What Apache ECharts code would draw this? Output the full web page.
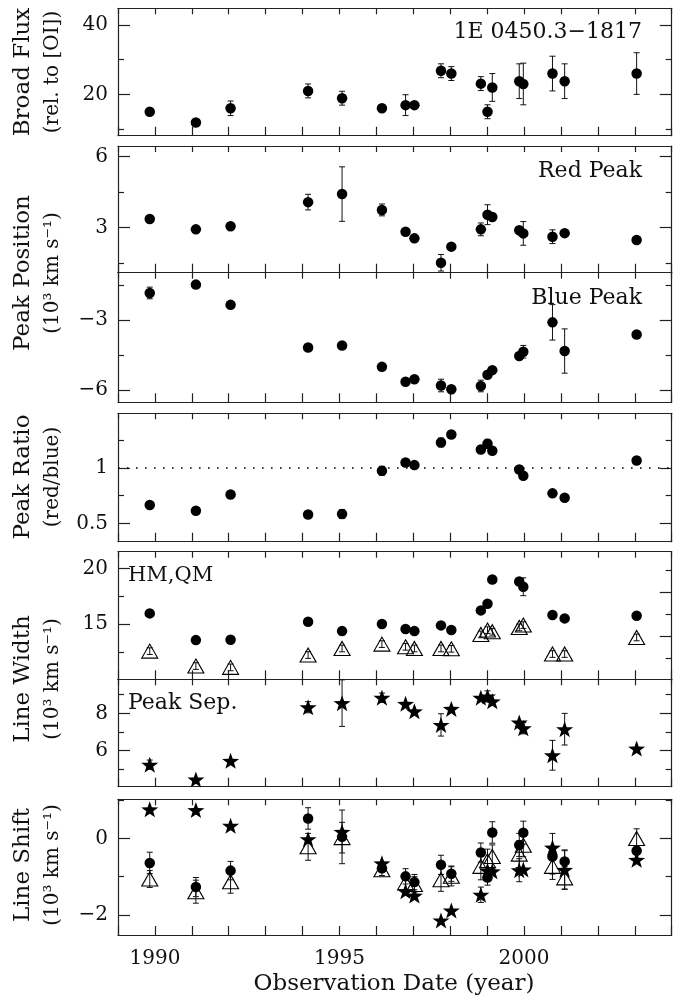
<!DOCTYPE html>
<html><head><meta charset="utf-8">
<script src="https://cdn.jsdelivr.net/npm/echarts@6/dist/echarts.min.js"></script>
<style>html,body{margin:0;padding:0;background:#fff}#c{width:690px;height:1004px}</style>
</head><body><div id="c"></div>
<script>
// ---------- DATA ----------
const dates = [1989.86, 1991.11, 1992.05, 1994.15, 1995.07, 1996.15, 1996.79, 1997.03, 1997.75, 1998.03, 1998.83, 1999.01, 1999.14, 1999.87, 1999.98, 2000.77, 2001.10, 2003.05];

const fluxVal = [15.0, 11.9, 16.0, 21.0, 18.9, 16.0, 16.9, 16.9, 26.8, 26.0, 23.1, 15.0, 22.0, 23.8, 23.0, 26.0, 23.8, 26.0];
const fluxErr = [0, 0, 2.1, 2, 2, 0, 3, 0, 2, 2, 2, 2, 4, 5, 6, 5, 5, 6];

const redVal = [3.37, 2.93, 3.06, 4.08, 4.42, 3.75, 2.83, 2.55, 1.52, 2.20, 2.93, 3.55, 3.45, 2.89, 2.76, 2.62, 2.77, 2.48];
const redErr = [0, 0, 0, 0.33, 1.15, 0.25, 0, 0, 0.35, 0, 0.27, 0.42, 0, 0, 0.5, 0.29, 0, 0];

const blueVal = [-1.84, -1.48, -2.35, -4.18, -4.09, -5.01, -5.65, -5.54, -5.81, -5.97, -5.83, -5.35, -5.15, -4.54, -4.36, -3.10, -4.33, -3.62];
const blueErr = [0.25, 0, 0, 0, 0, 0, 0, 0, 0.27, 0, 0.25, 0, 0, 0, 0.27, 0.76, 0.95, 0];

const ratioVal = [0.665, 0.614, 0.76, 0.58, 0.584, 0.973, 1.048, 1.024, 1.228, 1.30, 1.165, 1.216, 1.153, 0.985, 0.928, 0.77, 0.73, 1.066];
const ratioErr = [0.02, 0.02, 0.02, 0.02, 0.04, 0.04, 0.02, 0.02, 0.04, 0.03, 0.03, 0.04, 0.03, 0.03, 0.03, 0.02, 0.02, 0.03];

const hmWidth = [15.96, 13.56, 13.59, 15.21, 14.37, 15.0, 14.55, 14.37, 14.88, 14.46, 16.23, 16.83, 19.01, 18.83, 18.35, 15.81, 15.51, 15.75];
const hmWidthErr = [0.3, 0, 0, 0, 0, 0, 0, 0, 0, 0, 0, 0, 0, 0.3, 0.8, 0, 0, 0];
const qmWidth = [12.57, 11.23, 11.11, 12.22, 12.81, 13.2, 12.96, 12.81, 12.81, 12.78, 14.07, 14.46, 14.31, 14.70, 14.91, 12.31, 12.31, 13.8];
const qmWidthErr = [0.3, 0.3, 0.3, 0.3, 0.3, 0.3, 0.3, 0.3, 0.3, 0.3, 0.3, 0.3, 0.3, 0.3, 0.3, 0.3, 0.3, 0.3];

const peakSep = [5.24, 4.45, 5.45, 8.33, 8.55, 8.84, 8.51, 8.11, 7.38, 8.24, 8.84, 8.91, 8.65, 7.51, 7.20, 5.75, 7.15, 6.11];
const peakSepErr = [0.25, 0, 0, 0.3, 1.25, 0.25, 0, 0, 0.6, 0, 0, 0.3, 0, 0, 0.3, 0.8, 0.85, 0];

const hmShift = [-0.64, -1.27, -0.84, 0.52, 0.04, -0.78, -0.99, -1.14, -0.69, -0.92, -0.37, -1.02, 0.155, -0.17, 0.15, -0.47, -0.60, -0.32];
const hmShiftErr = [0.28, 0.25, 0.24, 0.28, 0.7, 0.1, 0.2, 0.2, 0.25, 0.2, 0.25, 0.2, 0.28, 0.3, 0.3, 0.6, 0.3, 0.1];
const qmShift = [-1.06, -1.39, -1.13, -0.22, 0.02, -0.82, -1.16, -1.20, -1.08, -0.99, -0.73, -0.58, -0.47, -0.41, -0.18, -0.73, -1.03, 0.0];
const qmShiftErr = [0.22, 0.3, 0.3, 0.35, 0.4, 0.15, 0.2, 0.2, 0.3, 0.25, 0.35, 0.3, 0.3, 0.35, 0.3, 0.2, 0.3, 0.25];
const peakShift = [0.76, 0.74, 0.33, -0.02, 0.17, -0.65, -1.38, -1.49, -2.14, -1.88, -1.47, -0.84, -0.86, -0.83, -0.81, -0.24, -0.82, -0.56];
const peakShiftErr = [0, 0, 0, 0, 0, 0, 0, 0, 0, 0, 0.2, 0, 0, 0.3, 0, 0, 0.5, 0];

// tick values
const yearTicksLabelled = [1990, 1995, 2000];
const fluxMajor = [20, 40], fluxMinor = [10, 30];
const redMajor = [3, 6], redMinor = [1.5, 4.5];
const blueMajor = [-6, -3], blueMinor = [-4.5, -1.5];
const ratioMajor = [0.5, 1], ratioMinor = [0.75, 1.25];
const widthMajor = [15, 20], widthMinor = [12.5, 17.5];
const widthRightMajor = [13.9, 17.85], widthRightMinor = [11.96, 15.9, 19.8];
const sepMajor = [6, 8], sepMinor = [5, 7, 9];
const shiftMajor = [-2, 0], shiftMinor = [-1, 1];
const ratioRef = 1;

// ---------- LAYOUT ----------
const FONT = 'DejaVu Serif';
const INK = '#000';
const L = 118, W = 553.7;
const panels = [
  {top: 8.3,   bottom: 135.7, min: 8.1,   max: 44.8,  major: fluxMajor,  minor: fluxMinor},
  {top: 146,   bottom: 272.7, min: 1.1,   max: 6.45,  major: redMajor,   minor: redMinor},
  {top: 272.7, bottom: 402.3, min: -6.53, max: -0.97, major: blueMajor,  minor: blueMinor},
  {top: 413.3, bottom: 541.7, min: 0.335, max: 1.49,  major: ratioMajor, minor: ratioMinor},
  {top: 551.7, bottom: 679.3, min: 10.04, max: 21.5,  major: widthMajor, minor: widthMinor, rMajor: widthRightMajor, rMinor: widthRightMinor},
  {top: 679.3, bottom: 786.7, min: 4.06,  max: 9.83,  major: sepMajor,   minor: sepMinor},
  {top: 799.3, bottom: 935,   min: -2.52, max: 1.02,  major: shiftMajor, minor: shiftMinor}
];

const fmtY = v => { const s = String(Math.abs(+(+v).toFixed(3))); return v < 0 ? '\u2212' + s : s; };
const fmtX = v => String(Math.round(v));
const lineSt = {color: '#222', width: 1.2};

const grid = [], xAxis = [], yAxis = [], series = [];
panels.forEach((p, i) => {
  grid.push({left: L, width: W, top: p.top, height: p.bottom - p.top});
  const xBase = {type: 'value', gridIndex: i, min: 1989, max: 2004, interval: 1,
    splitLine: {show: false}, axisLine: {show: true, onZero: false, lineStyle: lineSt}};
  xAxis.push(Object.assign({}, xBase, {position: 'bottom',
    axisTick: {show: true, inside: true, length: 9, lineStyle: lineSt},
    axisLabel: {show: i === panels.length - 1, customValues: yearTicksLabelled, formatter: fmtX, margin: 14,
      fontFamily: FONT, fontSize: 20, color: '#111'}}));
  xAxis.push(Object.assign({}, xBase, {position: 'top',
    axisTick: {show: true, inside: true, length: 6, lineStyle: lineSt},
    axisLabel: {show: false}}));
  const yBase = {type: 'value', gridIndex: i, min: p.min, max: p.max, splitLine: {show: false}};
  yAxis.push(Object.assign({}, yBase, {position: 'left',
    axisLine: {show: true, onZero: false, lineStyle: lineSt},
    axisTick: {show: true, inside: true, length: 12, customValues: p.major, lineStyle: lineSt},
    axisLabel: {show: true, customValues: p.major, formatter: fmtY, margin: 10,
      fontFamily: FONT, fontSize: 20, color: '#111'}}));
  yAxis.push(Object.assign({}, yBase, {position: 'left',
    axisLine: {show: false},
    axisTick: {show: true, inside: true, length: 6, customValues: p.minor, lineStyle: lineSt},
    axisLabel: {show: false}}));
  yAxis.push(Object.assign({}, yBase, {position: 'right',
    axisLine: {show: true, onZero: false, lineStyle: lineSt},
    axisTick: {show: true, inside: true, length: 12, customValues: p.rMajor || p.major, lineStyle: lineSt},
    axisLabel: {show: false}}));
  yAxis.push(Object.assign({}, yBase, {position: 'right',
    axisLine: {show: false},
    axisTick: {show: true, inside: true, length: 6, customValues: p.rMinor || p.minor, lineStyle: lineSt},
    axisLabel: {show: false}}));
});

const STAR = 'path://M0,-10L2.35,-3.24L9.51,-3.09L3.8,1.24L5.88,8.09L0,4L-5.88,8.09L-3.8,1.24L-9.51,-3.09L-2.35,-3.24Z';
const sym = {
  circle: {symbol: 'circle', symbolSize: 10.5, itemStyle: {color: INK, opacity: 1}},
  tri: {symbol: 'triangle', symbolSize: [16, 14], itemStyle: {color: 'rgba(0,0,0,0)', borderColor: INK, borderWidth: 1.1, opacity: 1}},
  star: {symbol: STAR, symbolSize: [17, 16], itemStyle: {color: INK, opacity: 1}}
};

function pts(vals) { return dates.map((d, k) => [d, vals[k]]); }
function scatter(gi, vals, kind, z, extra) {
  return Object.assign({type: 'scatter', xAxisIndex: gi * 2, yAxisIndex: gi * 4, data: pts(vals),
    silent: true, animation: false, z: z}, sym[kind], extra || {});
}
function errBars(gi, vals, errs) {
  const data = [];
  dates.forEach((d, k) => { if (errs[k] > 0) data.push([d, vals[k], errs[k]]); });
  return {type: 'custom', xAxisIndex: gi * 2, yAxisIndex: gi * 4, data: data, silent: true,
    animation: false, clip: true, z: 1, encode: {x: 0, y: 1},
    renderItem: (params, api) => {
      const x = api.value(0), y = api.value(1), e = api.value(2);
      const a = api.coord([x, y + e]), b = api.coord([x, y - e]);
      const st = {stroke: '#111', lineWidth: 1};
      const cap = 3;
      return {type: 'group', children: [
        {type: 'line', shape: {x1: a[0], y1: a[1], x2: b[0], y2: b[1]}, style: st},
        {type: 'line', shape: {x1: a[0] - cap, y1: a[1], x2: a[0] + cap, y2: a[1]}, style: st},
        {type: 'line', shape: {x1: b[0] - cap, y1: b[1], x2: b[0] + cap, y2: b[1]}, style: st}
      ]};
    }};
}

series.push(errBars(0, fluxVal, fluxErr), scatter(0, fluxVal, 'circle', 3));
series.push(errBars(1, redVal, redErr), scatter(1, redVal, 'circle', 3));
series.push(errBars(2, blueVal, blueErr), scatter(2, blueVal, 'circle', 3));
series.push(errBars(3, ratioVal, ratioErr), scatter(3, ratioVal, 'circle', 3, {
  markLine: {silent: true, symbol: 'none', animation: false, label: {show: false},
    lineStyle: {type: [1.6, 7.4], color: INK, width: 1.6}, data: [{yAxis: ratioRef}]}}));
series.push(errBars(4, qmWidth, qmWidthErr), scatter(4, qmWidth, 'tri', 2));
series.push(errBars(4, hmWidth, hmWidthErr), scatter(4, hmWidth, 'circle', 3));
series.push(errBars(5, peakSep, peakSepErr), scatter(5, peakSep, 'star', 3));
series.push(errBars(6, qmShift, qmShiftErr), scatter(6, qmShift, 'tri', 2));
series.push(errBars(6, hmShift, hmShiftErr), scatter(6, hmShift, 'circle', 3));
series.push(errBars(6, peakShift, peakShiftErr), scatter(6, peakShift, 'star', 4));

function txt(x, y, text, size, align, rot) {
  return {type: 'text', x: x, y: y, rotation: rot || 0, silent: true,
    style: {text: text, fontFamily: FONT, fontSize: size, fill: '#111',
      textAlign: align || 'center', textVerticalAlign: 'middle'}};
}
const R = Math.PI / 2;
const graphic = [
  txt(642, 32, '1E 0450.3\u22121817', 22, 'right'),
  txt(642, 171, 'Red Peak', 22, 'right'),
  txt(642, 298, 'Blue Peak', 22, 'right'),
  txt(128, 576, 'HM,QM', 21, 'left'),
  txt(128, 703, 'Peak Sep.', 22, 'left'),
  txt(23, 72, 'Broad Flux', 23, 'center', R),
  txt(53, 72, '(rel. to [OI])', 20, 'center', R),
  txt(23, 273, 'Peak Position', 23, 'center', R),
  txt(53, 273, '(10\u00b3 km s\u207b\u00b9)', 20, 'center', R),
  txt(23, 477, 'Peak Ratio', 23, 'center', R),
  txt(53, 477, '(red/blue)', 20, 'center', R),
  txt(23, 679, 'Line Width', 23, 'center', R),
  txt(53, 679, '(10\u00b3 km s\u207b\u00b9)', 20, 'center', R),
  txt(23, 865, 'Line Shift', 23, 'center', R),
  txt(53, 865, '(10\u00b3 km s\u207b\u00b9)', 20, 'center', R),
  txt(394, 984, 'Observation Date (year)', 23, 'center')
];

const chart = echarts.init(document.getElementById('c'), null, {renderer: 'canvas'});
chart.setOption({animation: false, backgroundColor: '#fff', grid, xAxis, yAxis, series, graphic});
</script>
</body></html>
